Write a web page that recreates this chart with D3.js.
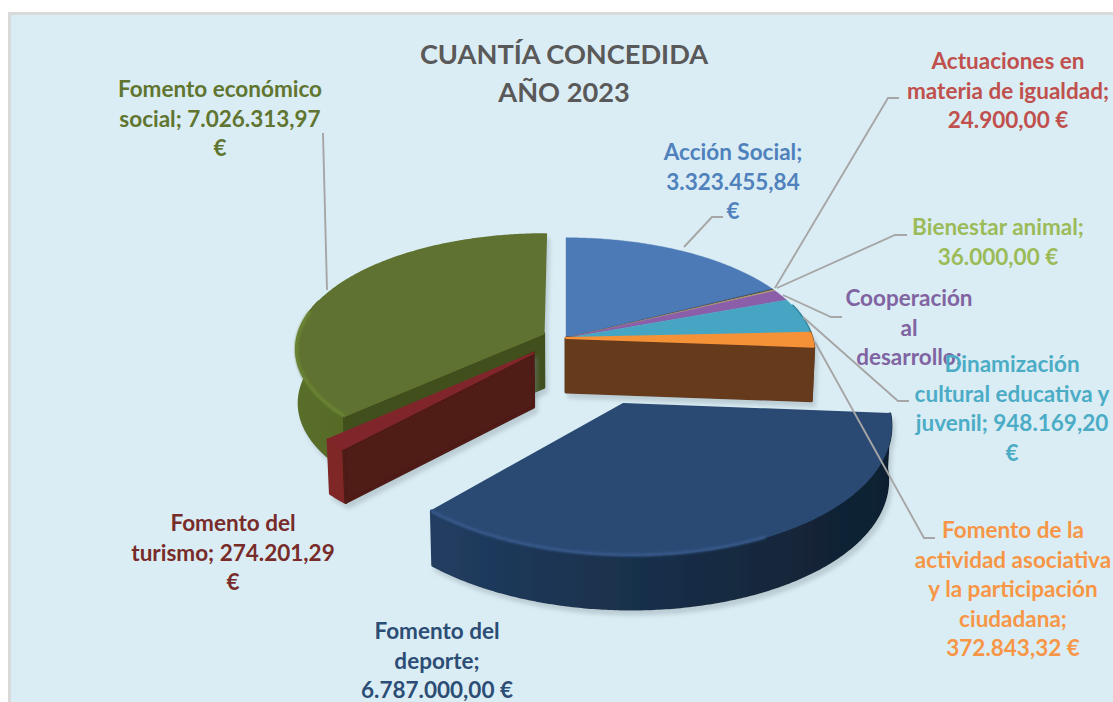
<!DOCTYPE html>
<html><head><meta charset="utf-8">
<script src="https://cdnjs.cloudflare.com/ajax/libs/d3/7.8.5/d3.min.js"></script>
<style>html,body{margin:0;padding:0;background:#fff;overflow:hidden}svg{display:block}text{font-family:Lato,"Open Sans",sans-serif;font-weight:700}</style>
</head><body><svg id="c" width="1113" height="702"></svg>
<script>
const categories = ["Acción Social","Actuaciones en materia de igualdad","Bienestar animal","Cooperación al desarrollo","Dinamización cultural educativa y juvenil","Fomento de la actividad asociativa y la participación ciudadana","Fomento del deporte","Fomento del turismo","Fomento económico social"];
const values = [3323455.84,24900,36000,300000,948169.20,372843.32,6787000,274201.29,7026313.97];
const explode = [0,0,0,0,0,0,0.585,0.185,0.1];
const labelColors = ["#4f81bd","#c0504d","#9bbb59","#8064a2","#4bacc6","#f79646","#2c4d75","#772c2a","#5f7530"];
const topColors = ["#4c7ab6","#33384a","#b79c62","#8a5ea8","#46a5c3","#f59238","#2a4a73","#80282a","#5f7230"];
const wallColors = [["#3c618f","#3c618f"],["#333","#333"],["#8a7545","#8a7545"],["#674a85","#674a85"],["#37849b","#37849b"],["#663a1c","#663a1c"],["#213d61","#0f1f2f"],["#7f2826","#7f2826"],["#596e29","#4e6024"]];
const cutColors = [null,null,null,null,null,"#663a1c",null,"#4f1a15","#3f501e"];
const cutSide = [null,null,null,null,null,"end",null,"start","start"];
const rimColors = [null,null,null,null,null,null,"#37598a",null,"#6c8636"];
const drawOrder = [8,7,0,1,2,3,4,5,6];
const labelLines = [
 ["Acción Social;","3.323.455,84","€"],
 ["Actuaciones en","materia de igualdad;","24.900,00 €"],
 ["Bienestar animal;","36.000,00 €"],
 ["Cooperación","al","desarrollo;"],
 ["Dinamización","cultural educativa y","juvenil; 948.169,20","€"],
 ["Fomento de la","actividad asociativa","y la participación","ciudadana;","372.843,32 €"],
 ["Fomento del","deporte;","6.787.000,00 €"],
 ["Fomento del","turismo; 274.201,29","€"],
 ["Fomento económico","social; 7.026.313,97","€"]];
const labelAnchor = [[733,160],[1008,69],[998,235],[909,306],[1012,372],[1013,538],[437,639],[233,531],[220,97]];
const labelStep = 29.6;
const leaders = [
 [[684,247],[712,217],[723,217]],
 [[775,288],[888,98],[899,98]],
 [[777,288],[895,235],[907,235]],
 [[783,295],[831,317],[842,317]],
 [[803,317],[898,401],[909,401]],
 [[815,342],[924,538],[935,538]],
 [[327,290],[323,133]]];
const titleLines = ["CUANTÍA CONCEDIDA","AÑO 2023"];

const svg = d3.select("#c");
const defs = svg.append("defs");
const sh = defs.append("filter").attr("id","shadow").attr("x","-20%").attr("y","-20%").attr("width","140%").attr("height","150%");
sh.append("feDropShadow").attr("dx",3).attr("dy",5).attr("stdDev",6).attr("flood-color","#7f9098").attr("flood-opacity",0.35);
defs.append("filter").attr("id","soft").append("feGaussianBlur").attr("stdDeviation",1.1);

// panel
svg.append("rect").attr("x",9.5).attr("y",13.5).attr("width",1120).attr("height",700).attr("fill","#dbedf4").attr("stroke","#d9d9d9").attr("stroke-width",3);

// projection
const cx=566, cy=338, rx=246, ry=113, persp=0.127, depth=54;
const xS=d3.scaleLinear().domain([-1,1]).range([cx-rx,cx+rx]);
const yS=d3.scaleLinear().domain([-1,1]).range([cy-ry,cy+ry]);
function proj(theta,r,e,mid){
  const u=r*Math.sin(theta)+e*Math.sin(mid), v=-r*Math.cos(theta)-e*Math.cos(mid), s=1/(1-persp*v);
  return [xS(u*s),yS(v*s)];
}
const low=p=>[cx+(p[0]-cx)*0.99,p[1]+depth];
const line=d3.line();
const arcs=d3.pie().sort(null).startAngle(0).endAngle(2*Math.PI)(values);

drawOrder.forEach(i=>{
  const a=arcs[i], e=explode[i], mid=(a.startAngle+a.endAngle)/2;
  const ts=d3.range(a.startAngle,a.endAngle,0.01).concat([a.endAngle]);
  const outer=ts.map(t=>proj(t,1,e,mid));
  const apex=proj(0,0,e,mid);
  const g=svg.append("g").attr("filter",(e>0||i===5)?"url(#shadow)":null);
  const gid="w"+i;
  const lg=defs.append("linearGradient").attr("id",gid).attr("gradientUnits","userSpaceOnUse")
    .attr("x1",d3.min(outer,p=>p[0])).attr("x2",d3.max(outer,p=>p[0])).attr("y1",0).attr("y2",0);
  lg.append("stop").attr("offset",0).attr("stop-color",wallColors[i][0]);
  lg.append("stop").attr("offset",1).attr("stop-color",wallColors[i][1]);
  // outer wall: only the part that looks toward the viewer
  const wall=ts.filter(t=>Math.cos(t)<0.3).map(t=>proj(t,1,e,mid));
  if(wall.length>1){
    g.append("path").attr("d",line(wall.concat(wall.map(low).reverse()))+"Z")
      .attr("fill",`url(#${gid})`).attr("stroke",`url(#${gid})`).attr("stroke-width",3).attr("stroke-linejoin","round");
  }
  // the one radial cut face that looks toward the viewer
  if(cutSide[i]){
    const p=cutSide[i]==="start"?outer[0]:outer[outer.length-1];
    g.append("path").attr("d",line([apex,p,low(p),low(apex)])+"Z")
     .attr("fill",cutColors[i]).attr("stroke",cutColors[i]).attr("stroke-width",3).attr("stroke-linejoin","round");
  }
  // top
  g.append("path").attr("d",line([apex].concat(outer))+"Z").attr("fill",topColors[i])
    .attr("stroke",topColors[i]).attr("stroke-width",i>=5?2:0.4).attr("stroke-linejoin","round");
  if(rimColors[i]){
    const rim=ts.filter(t=>Math.cos(t)<0.2&&Math.sin(t)<0.45).map(t=>proj(t,1,e,mid));
    g.append("path").attr("d",line(rim)).attr("fill","none").attr("stroke",rimColors[i]).attr("stroke-width",3).attr("filter","url(#soft)");
  }
});

// leaders
leaders.forEach(pts=>svg.append("path").attr("d",line(pts)).attr("fill","none").attr("stroke","#a6a6a6").attr("stroke-width",1.9));

// labels
labelLines.forEach((ls,i)=>{
  const t=svg.append("text").attr("text-anchor","middle").attr("fill",labelColors[i]).attr("font-size",22.5);
  ls.forEach((s,j)=>t.append("tspan").attr("x",labelAnchor[i][0]).attr("y",labelAnchor[i][1]+j*labelStep).text(s));
});
svg.append("g").selectAll("text").data(titleLines).join("text").attr("x",564).attr("y",(d,i)=>64+i*38)
  .attr("text-anchor","middle").attr("fill","#595959").attr("font-size",27.2).text(d=>d);
</script></body></html>
